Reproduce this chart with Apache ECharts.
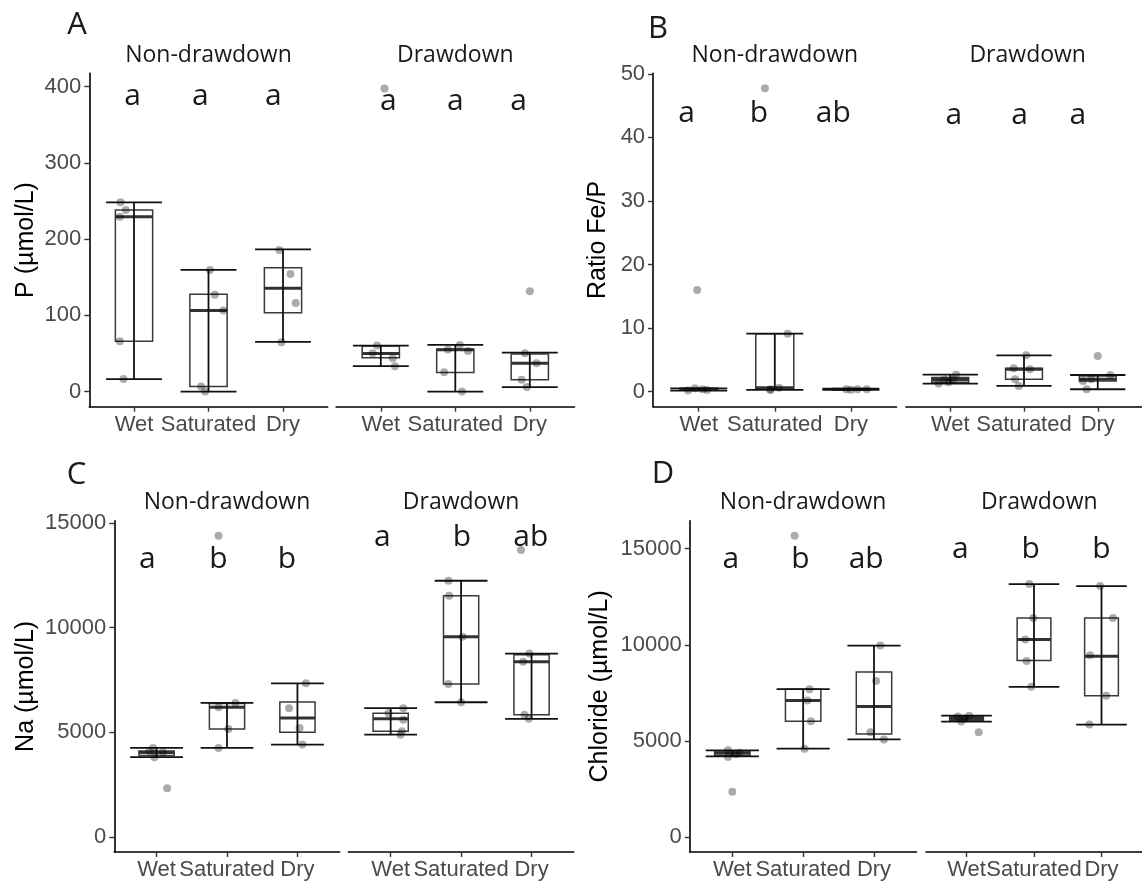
<!DOCTYPE html>
<html>
<head>
<meta charset="utf-8">
<title>Porewater boxplots</title>
<script src="https://cdn.jsdelivr.net/npm/echarts@6/dist/echarts.min.js"></script>
<style>
  html, body { margin: 0; background: #fff; }
  #chart { width: 1142px; height: 881px; }
</style>
</head>
<body>
<div id="chart"></div>
<script>
const categories = ['Wet', 'Saturated', 'Dry']
const facets = ['Non-drawdown', 'Drawdown']

// box stats, one row per category: [lower whisker, Q1, median, Q3, upper whisker]
// points: [category index + jitter, value]
// letters: [x, y, text]

// A - P (µmol/L)
const pTicks = [0, 100, 200, 300, 400]
const pBoxNon = [[16.3, 66.1, 229.4, 238.1, 248.2], [0, 6.6, 106.2, 127.6, 159.5], [65.1, 103.5, 135.5, 162.5, 186.6]]
const pBoxDraw = [[33.3, 44.2, 50.0, 59.8, 60.3], [0, 25.0, 54.7, 55.5, 61.2], [5.8, 15.3, 37.2, 49.4, 51.1]]
const pPtsNon = [[-0.18, 248.2], [-0.11, 238.1], [-0.19, 229.4], [-0.19, 66.1], [-0.14, 16.3],
  [1.02, 159.5], [1.085, 127.1], [1.2, 106.2], [0.9, 6.6], [0.955, 0],
  [1.95, 185.7], [2.1, 154.3], [2.17, 116.3], [1.98, 64.7]]
const pPtsDraw = [[-0.05, 60.3], [-0.11, 50.3], [0.16, 43.8], [0.19, 33.3], [0.05, 397.6],
  [1.06, 61.2], [0.9, 55], [1.17, 53.3], [0.85, 25.4], [1.09, 0],
  [1.935, 50.3], [2.09, 37.2], [1.89, 15.3], [1.96, 5.8], [2.0, 131.6]]
const pLetNon = [[-0.02, 386.6, 'a'], [0.89, 386.6, 'a'], [1.87, 386.6, 'a']]
const pLetDraw = [[0.1, 380, 'a'], [1.0, 380, 'a'], [1.85, 380, 'a']]

// B - Ratio Fe/P
const feTicks = [0, 10, 20, 30, 40, 50]
const feBoxNon = [[0.15, 0.25, 0.35, 0.5, 0.5], [0.25, 0.36, 0.6, 9.1, 9.1], [0.25, 0.3, 0.35, 0.4, 0.45]]
const feBoxDraw = [[1.25, 1.45, 1.9, 2.2, 2.65], [0.88, 1.95, 3.5, 3.66, 5.7], [0.36, 1.67, 1.93, 2.45, 2.6]]
const fePtsNon = [[-0.02, 16.0], [-0.14, 0.15], [0.11, 0.25], [0.05, 0.35], [-0.05, 0.5],
  [0.87, 47.75], [1.17, 9.1], [0.945, 0.36], [1.055, 0.6], [0.94, 0.25],
  [1.94, 0.36], [2.087, 0.36], [2.21, 0.36], [2.0, 0.3]]
const fePtsDraw = [[-0.16, 1.25], [-0.08, 1.9], [0.04, 1.95], [0.08, 2.65], [-0.02, 1.45],
  [1.03, 5.7], [0.86, 3.66], [1.08, 3.5], [0.88, 1.95], [0.93, 0.88],
  [2.0, 5.6], [1.8, 1.67], [1.91, 1.93], [2.17, 2.6], [1.85, 0.36]]
const feLetNon = [[-0.16, 43.8, 'a'], [0.79, 43.8, 'b'], [1.77, 43.8, 'ab']]
const feLetDraw = [[0.05, 43.4, 'a'], [0.94, 43.4, 'a'], [1.73, 43.4, 'a']]

// C - Na (µmol/L)
const naTicks = [0, 5000, 10000, 15000]
const naBoxNon = [[3810, 3890, 4030, 4110, 4254], [4254, 5160, 6200, 6380, 6404], [4412, 5005, 5677, 6448, 7338]]
const naBoxDraw = [[4886, 5044, 5650, 5914, 6152], [6436, 7306, 9567, 11528, 12240], [5645, 5835, 8365, 8700, 8760]]
const naPtsNon = [[-0.05, 4254], [-0.1, 4110], [0.09, 4050], [-0.03, 3810], [0.15, 2325],
  [0.88, 14390], [0.88, 6200], [1.12, 6404], [1.02, 5160], [0.88, 4254],
  [2.12, 7338], [1.88, 6152], [2.03, 5203], [2.07, 4412]]
const naPtsDraw = [[0.18, 6152], [-0.03, 5914], [0.18, 5600], [0.16, 5044], [0.14, 4886],
  [0.82, 12240], [0.83, 11528], [1.02, 9567], [0.82, 7306], [1.0, 6436],
  [1.85, 13710], [1.97, 8760], [1.88, 8365], [1.9, 5835], [1.96, 5645]]
const naLetNon = [[-0.13, 13280, 'a'], [0.88, 13280, 'b'], [1.85, 13280, 'b']]
const naLetDraw = [[-0.12, 14310, 'a'], [1.01, 14310, 'b'], [1.99, 14310, 'ab']]

// D - Chloride (µmol/L)
const clTicks = [0, 5000, 10000, 15000]
const clBoxNon = [[4196, 4250, 4370, 4470, 4506], [4592, 6020, 7104, 7688, 7688], [5074, 5357, 6785, 8578, 9959]]
const clBoxDraw = [[6003, 6055, 6158, 6278, 6312], [7809, 9184, 10268, 11386, 13158], [5848, 7344, 9408, 11386, 13055]]
const clPtsNon = [[-0.06, 4506], [-0.06, 4162], [0.1, 4386], [0.05, 4300], [0, 2356],
  [0.88, 15671], [1.09, 7688], [1.06, 7104], [1.11, 6020], [1.02, 4592],
  [2.09, 9959], [2.03, 8118], [1.95, 5452], [2.14, 5074]]
const clPtsDraw = [[-0.13, 6261], [0.04, 6312], [-0.08, 6003], [0.18, 5452], [-0.03, 6158],
  [0.93, 13158], [0.99, 11386], [0.87, 10268], [0.89, 9150], [0.96, 7809],
  [1.98, 13055], [2.17, 11386], [1.83, 9460], [2.07, 7344], [1.82, 5848]]
const clLetNon = [[-0.02, 14430, 'a'], [0.96, 14430, 'b'], [1.89, 14430, 'ab']]
const clLetDraw = [[-0.09, 14980, 'a'], [0.95, 14980, 'b'], [2.0, 14980, 'b']]

const panels = [
  { tag: 'A', tagPos: [77, 25], yName: 'P (µmol/L)', nameGap: 51, ticks: pTicks, yMin: -19.9, yMax: 417.5,
    top: 73.3, height: 333.4, lefts: [89.3, 336.1], width: 238.4, stripY: 55,
    boxes: [pBoxNon, pBoxDraw], points: [pPtsNon, pPtsDraw], letters: [pLetNon, pLetDraw] },
  { tag: 'B', tagPos: [658, 29], yName: 'Ratio Fe/P', nameGap: 42, ticks: feTicks, yMin: -2.385, yMax: 50.085,
    top: 73.3, height: 333.4, lefts: [653.1, 906], width: 243.4, stripY: 55,
    boxes: [feBoxNon, feBoxDraw], points: [fePtsNon, fePtsDraw], letters: [feLetNon, feLetDraw] },
  { tag: 'C', tagPos: [76.5, 475], yName: 'Na (µmol/L)', nameGap: 76, ticks: naTicks, yMin: -719.5, yMax: 15109.5,
    top: 520.7, height: 333.6, lefts: [114.3, 348.4], width: 225.4, stripY: 502,
    boxes: [naBoxNon, naBoxDraw], points: [naPtsNon, naPtsDraw], letters: [naLetNon, naLetDraw] },
  { tag: 'D', tagPos: [663, 474], yName: 'Chloride (µmol/L)', nameGap: 77, ticks: clTicks, yMin: -784, yMax: 16455,
    top: 520.7, height: 333.6, lefts: [689.8, 926], width: 226.7, stripY: 502,
    boxes: [clBoxNon, clBoxDraw], points: [clPtsNon, clPtsDraw], letters: [clLetNon, clLetDraw] },
]

const labelFont = 'Liberation Sans'

function renderBox(params, api) {
  const x = api.value(0)
  const lo = api.coord([x, api.value(1)])
  const q1 = api.coord([x, api.value(2)])
  const med = api.coord([x, api.value(3)])
  const q3 = api.coord([x, api.value(4)])
  const hi = api.coord([x, api.value(5)])
  const unit = api.size([1, 0])[0]
  const bw = unit * 0.5
  const cw = unit * 0.75
  const cx = lo[0]
  return {
    type: 'group',
    children: [
      { type: 'rect', shape: { x: cx - bw / 2, y: q3[1], width: bw, height: q1[1] - q3[1] },
        style: { fill: '#fff', stroke: '#3a3a3a', lineWidth: 1.5 } },
      { type: 'line', shape: { x1: cx - bw / 2, y1: med[1], x2: cx + bw / 2, y2: med[1] },
        style: { stroke: '#333', lineWidth: 3 } },
      { type: 'line', shape: { x1: cx, y1: lo[1], x2: cx, y2: hi[1] },
        style: { stroke: '#111', lineWidth: 1.8 } },
      { type: 'line', shape: { x1: cx - cw / 2, y1: lo[1], x2: cx + cw / 2, y2: lo[1] },
        style: { stroke: '#111', lineWidth: 1.8 } },
      { type: 'line', shape: { x1: cx - cw / 2, y1: hi[1], x2: cx + cw / 2, y2: hi[1] },
        style: { stroke: '#111', lineWidth: 1.8 } },
    ],
  }
}

function renderLetter(params, api) {
  const pt = api.coord([api.value(0), api.value(1)])
  return {
    type: 'text', x: pt[0], y: pt[1],
    style: { text: api.value(2), font: '30px "Open Sans"', fill: '#1a1a1a', align: 'center', verticalAlign: 'middle' },
  }
}

const grid = []
const xAxis = []
const yAxis = []
const series = []
const graphic = []

panels.forEach(p => {
  graphic.push({ type: 'text', x: p.tagPos[0], y: p.tagPos[1],
    style: { text: p.tag, font: '31px "Open Sans"', fill: '#1a1a1a', align: 'center', verticalAlign: 'middle' } })

  p.lefts.forEach((left, f) => {
    const idx = grid.length
    grid.push({ left: left, top: p.top, width: p.width, height: p.height })
    graphic.push({ type: 'text', x: left + p.width / 2, y: p.stripY,
      style: { text: facets[f], font: '23px "Open Sans"', fill: '#1a1a1a', align: 'center', verticalAlign: 'middle' } })

    xAxis.push({
      gridIndex: idx, type: 'value', min: -0.6, max: 2.6,
      splitLine: { show: false },
      axisLine: { onZero: false, lineStyle: { color: '#000', width: 1.6 } },
      axisTick: { length: 5, customValues: [0, 1, 2], lineStyle: { color: '#333', width: 1.4 } },
      axisLabel: { customValues: [0, 1, 2], formatter: v => categories[v], margin: 7,
        fontFamily: labelFont, fontSize: 22, color: '#4a4a4a' },
    })
    yAxis.push({
      gridIndex: idx, type: 'value', min: p.yMin, max: p.yMax, show: f === 0,
      name: f === 0 ? p.yName : '', nameLocation: 'middle', nameRotate: 90, nameGap: p.nameGap,
      nameTextStyle: { fontFamily: labelFont, fontSize: 25, color: '#000' },
      splitLine: { show: false },
      axisLine: { show: true, onZero: false, lineStyle: { color: '#000', width: 1.6 } },
      axisTick: { show: true, length: 5, customValues: p.ticks, lineStyle: { color: '#333', width: 1.4 } },
      axisLabel: { customValues: p.ticks, formatter: v => String(v), margin: 8,
        fontFamily: labelFont, fontSize: 22, color: '#4a4a4a' },
    })

    series.push({
      type: 'custom', xAxisIndex: idx, yAxisIndex: idx, renderItem: renderBox, silent: true,
      data: p.boxes[f].map((b, i) => [i].concat(b)),
    })
    series.push({
      type: 'scatter', xAxisIndex: idx, yAxisIndex: idx, silent: true,
      symbolSize: 8, itemStyle: { color: 'rgba(0,0,0,0.33)', opacity: 1 },
      data: p.points[f],
    })
    series.push({
      type: 'custom', xAxisIndex: idx, yAxisIndex: idx, renderItem: renderLetter, silent: true,
      dimensions: ['x', 'y', { name: 'text', type: 'ordinal' }],
      data: p.letters[f],
    })
  })
})

const chart = echarts.init(document.getElementById('chart'), null, { renderer: 'canvas' })
chart.setOption({
  animation: false,
  backgroundColor: '#fff',
  grid, xAxis, yAxis, series, graphic,
})
</script>
</body>
</html>
